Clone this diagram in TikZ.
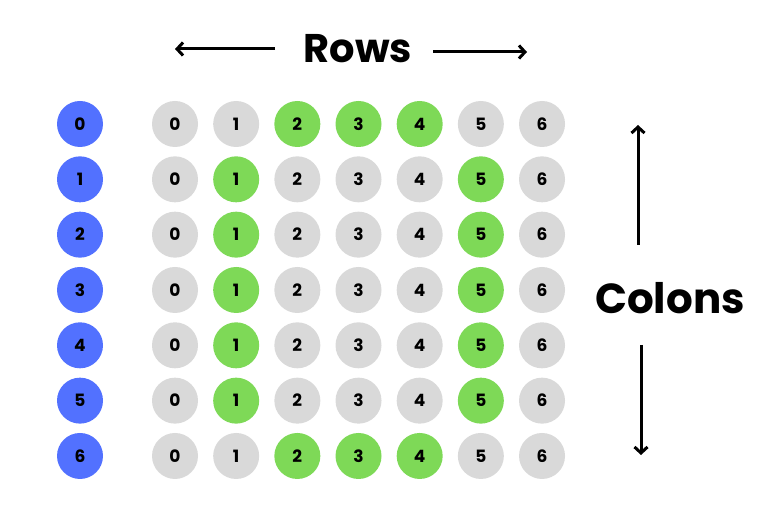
\documentclass[tikz,border=0pt]{standalone}
\usepackage{fontspec}
\setmainfont{Poppins}
\usetikzlibrary{arrows.meta}
\definecolor{cblue}{HTML}{5271FF}
\definecolor{cgreen}{HTML}{7ED957}
\definecolor{cgray}{HTML}{D9D9D9}
\tikzset{
  dot/.style={circle, minimum size=46pt, inner sep=0pt, font=\fontsize{17}{17}\selectfont\bfseries, text=black},
  bluedot/.style={dot, fill=cblue},
  graydot/.style={dot, fill=cgray},
  greendot/.style={dot, fill=cgreen},
  title/.style={font=\bfseries, text=black, inner sep=0pt},
  arr/.style={line width=3pt, -{Straight Barb[length=6pt,width=13pt,line width=3pt]}}
}
\begin{document}
\begin{tikzpicture}[x=1pt,y=-1pt]
\useasboundingbox (0,0) rectangle (768,526);
\foreach \r in {0,...,6} {
  \node[bluedot] (b\r) at (80,{124+\r*55.33}) {\r};
  \foreach \c in {0,...,6} {
    \pgfmathtruncatemacro{\g}{((\r==0 || \r==6) && \c>=2 && \c<=4) || (\r>=1 && \r<=5 && (\c==1 || \c==5)) ? 1 : 0}
    \ifnum\g=1
      \node[greendot] (c\r-\c) at ({175+\c*61.17},{124+\r*55.33}) {\c};
    \else
      \node[graydot] (c\r-\c) at ({175+\c*61.17},{124+\r*55.33}) {\c};
    \fi
  }
}
\node[title, font=\fontsize{40}{40}\selectfont\bfseries] (rows) at (358,49) {Rows};
\node[title, font=\fontsize{42}{42}\selectfont\bfseries] (colons) at (670,298) {Colons};
\coordinate (l1) at (275,49);
\coordinate (l2) at (175,49);
\coordinate (r1) at (433,52);
\coordinate (r2) at (527,52);
\coordinate (u1) at (638,245);
\coordinate (u2) at (638,125);
\coordinate (d1) at (641,345);
\coordinate (d2) at (641,455);
\draw[arr] (l1) -- (l2);
\draw[arr] (r1) -- (r2);
\draw[arr] (u1) -- (u2);
\draw[arr] (d1) -- (d2);
\end{tikzpicture}
\end{document}
